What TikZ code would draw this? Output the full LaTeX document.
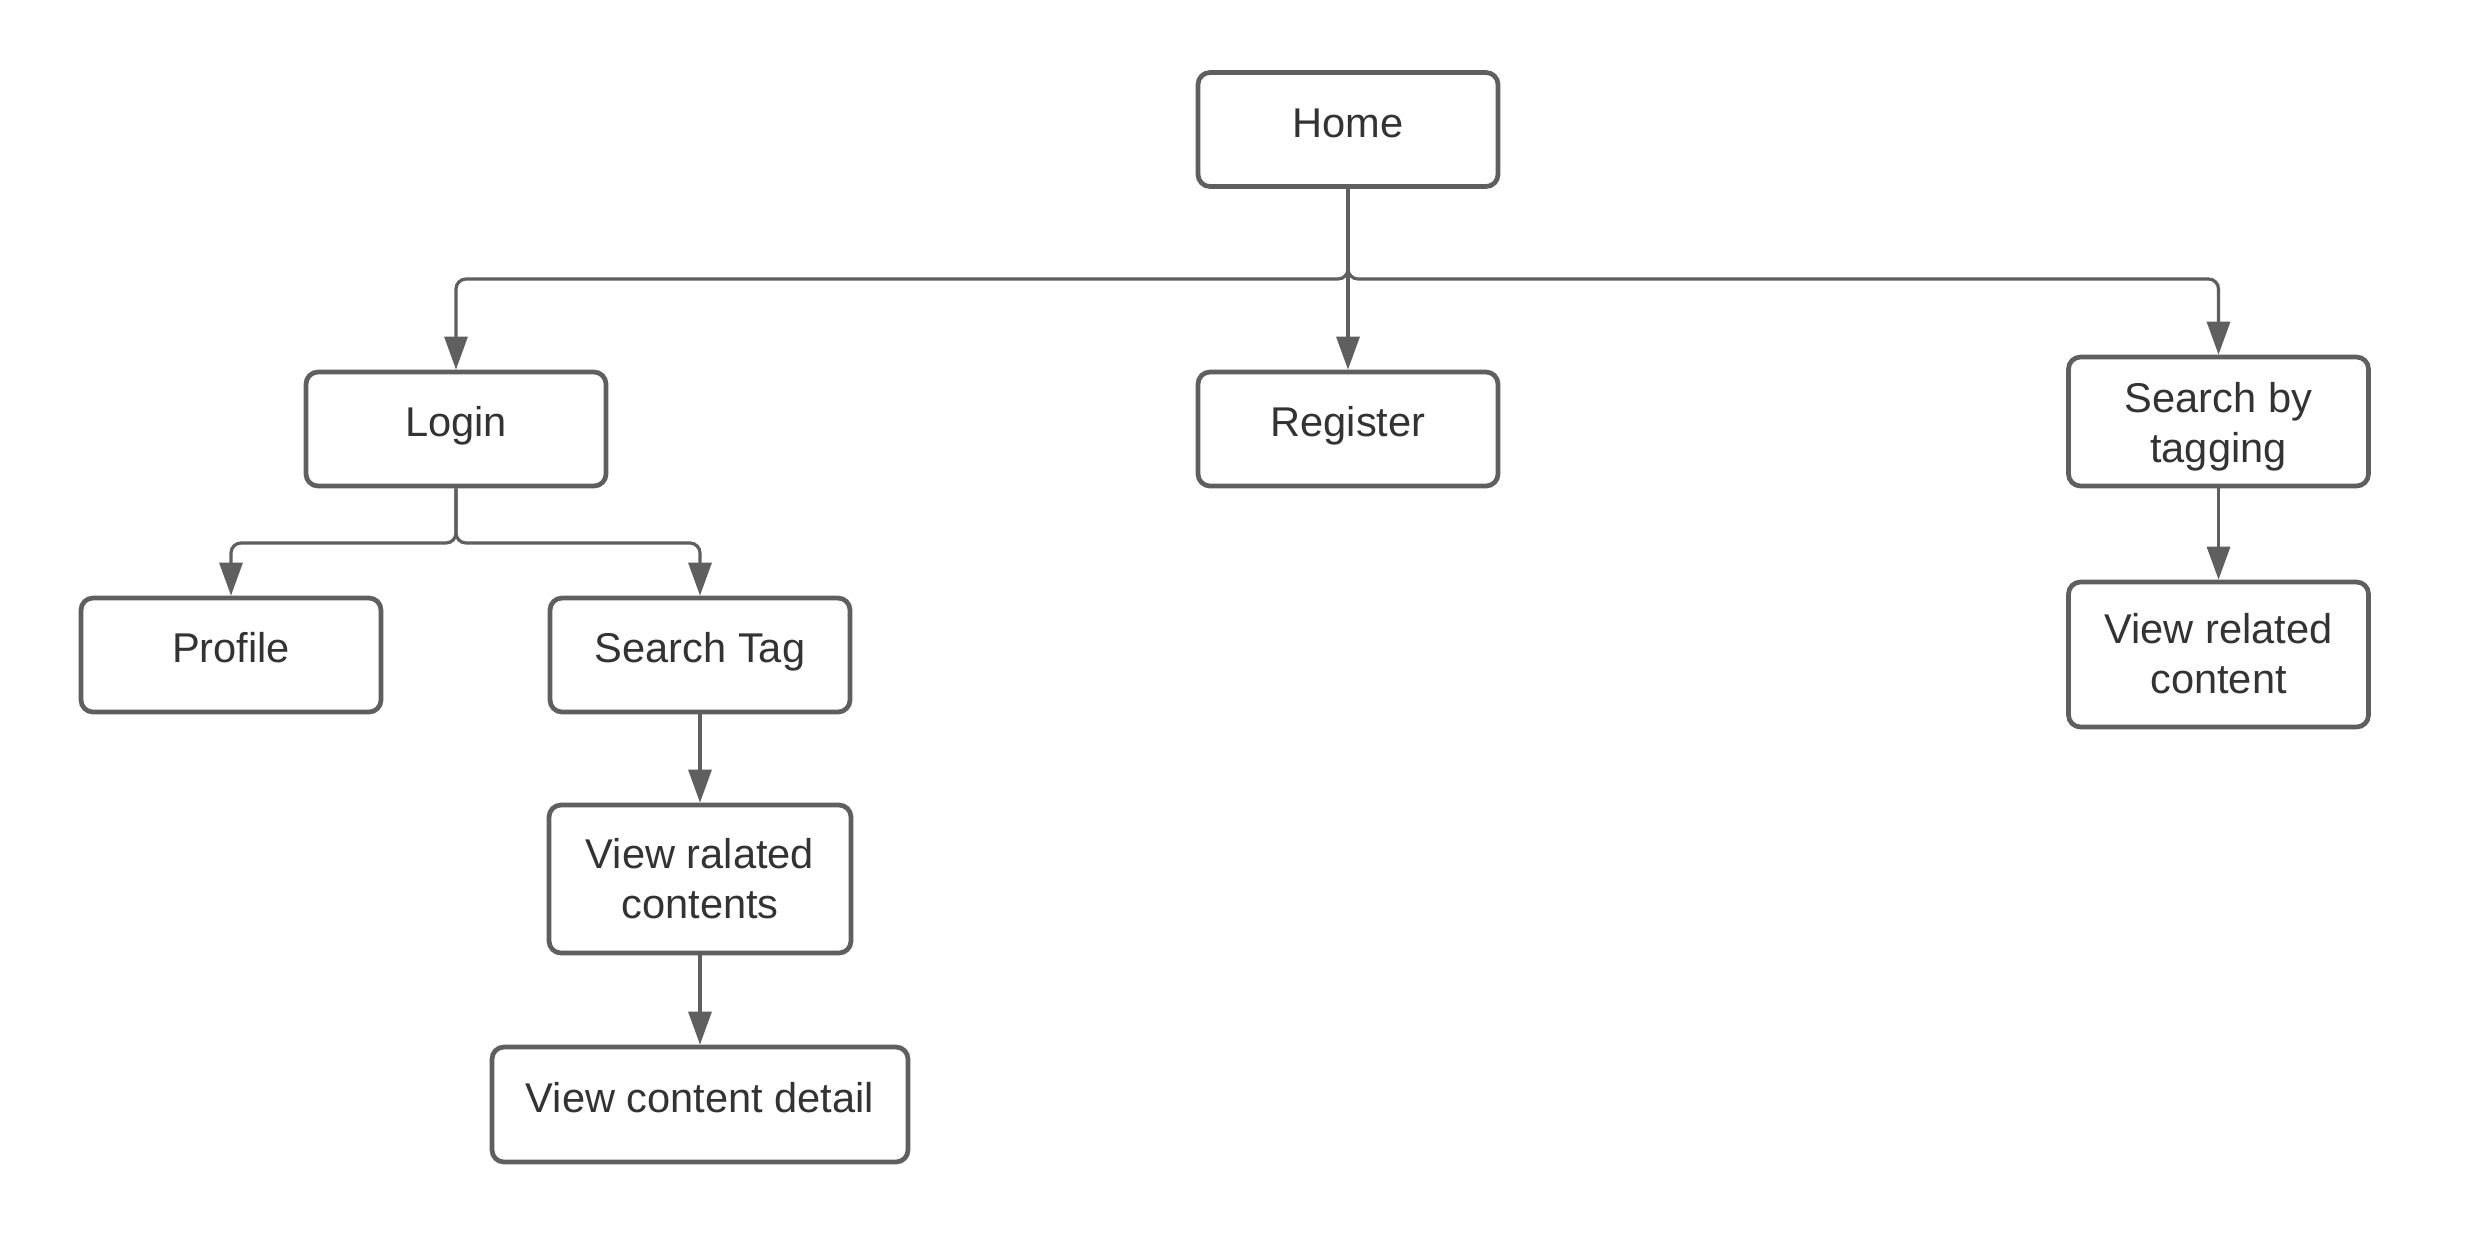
\documentclass[tikz,border=0pt]{standalone}
\usepackage{fontspec}
\setmainfont{Liberation Sans}
\usetikzlibrary{arrows.meta}
\definecolor{edgegray}{HTML}{5F5F5F}
\definecolor{textgray}{HTML}{333333}
\tikzset{
  box/.style={draw=edgegray, line width=2.35pt, rounded corners=6pt, fill=white,
    text=textgray, font=\fontsize{20.8pt}{25pt}\selectfont,
    minimum width=150pt, minimum height=57pt, inner sep=0pt,
    text height=14pt, text depth=6.5pt},
  twoline/.style={align=center, text height=43pt, text depth=4.5pt},
  conn/.style={draw=edgegray, line width=1.6pt, rounded corners=5pt,
    -{Triangle[length=16.5pt,width=11.5pt]}},
}
\begin{document}
\begin{tikzpicture}[x=0.5pt,y=-0.5pt]
\useasboundingbox[fill=white] (0,0) rectangle (2473,1239);
% boxes
\node[box] (home) at (1348,129.5) {Home};
\node[box] (login) at (456,429) {Login};
\node[box] (register) at (1348,429) {Register};
\node[box,twoline,minimum height=64.5pt,text height=45pt,text depth=4pt] (sbt) at (2218.5,421.5) {Search by\\tagging};
\node[box,twoline,minimum height=72.5pt] (vrc) at (2218.5,654.5) {View related\\content};
\node[box] (profile) at (231,655) {Profile};
\node[box] (stag) at (700,655) {Search Tag};
\node[box,twoline,minimum width=151pt,minimum height=74pt,text height=43.5pt] (vrcs) at (700,879) {View ralated\\contents};
\node[box,minimum width=208pt,minimum height=57.5pt] (vcd) at (700,1104.5) {View content detail};
% junctions
\coordinate (hj) at (1348,279);
\coordinate (lj) at (456,543);
% connectors
\draw[conn] (home.south) -- (hj) -| (login.north);
\draw[conn] (home.south) -- (register.north);
\draw[conn] (home.south) -- (hj) -| (sbt.north);
\draw[conn] (login.south) -- (lj) -| (profile.north);
\draw[conn] (login.south) -- (lj) -| (stag.north);
\draw[conn] (stag.south) -- (vrcs.north);
\draw[conn] (vrcs.south) -- (vcd.north);
\draw[conn] (sbt.south) -- (vrc.north);
\end{tikzpicture}
\end{document}
